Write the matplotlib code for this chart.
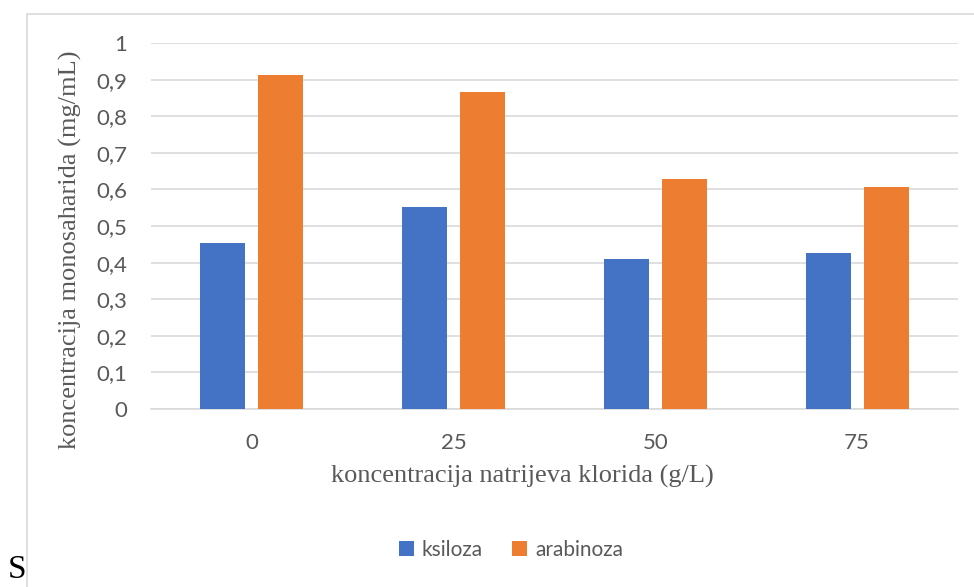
import matplotlib.pyplot as plt
from matplotlib.patches import Rectangle

categories = ["0", "25", "50", "75"]
ksiloza = [0.453, 0.552, 0.411, 0.427]
arabinoza = [0.912, 0.865, 0.628, 0.607]
yticks = [0, 0.1, 0.2, 0.3, 0.4, 0.5, 0.6, 0.7, 0.8, 0.9, 1]
ytick_labels = ["0", "0,1", "0,2", "0,3", "0,4", "0,5", "0,6", "0,7", "0,8", "0,9", "1"]

blue = "#4472C4"
orange = "#ED7D31"
grey_text = "#595959"

fig = plt.figure(figsize=(9.74, 5.87), dpi=100)
ax = fig.add_axes([151 / 974, 1 - 409 / 587, (958 - 151) / 974, (409 - 43) / 587])

# chart frame (no right/bottom edge visible)
fig.patches.append(Rectangle((27 / 974, -0.1), 1.1, 1 - 14 / 587 + 0.1,
                             transform=fig.transFigure, fill=False,
                             edgecolor="#D9D9D9", linewidth=1.2))

x = list(range(len(categories)))
w = 0.223
off = 0.144
ax.bar([i - off for i in x], ksiloza, width=w, color=blue, label="ksiloza", zorder=3)
ax.bar([i + off for i in x], arabinoza, width=w, color=orange, label="arabinoza", zorder=3)

ax.set_xlim(-0.5, 3.5)
ax.set_ylim(0, 1)
ax.set_yticks(yticks)
ax.set_yticklabels(ytick_labels)
ax.set_xticks(x)
ax.set_xticklabels(categories)
ax.grid(axis="y", color="#D9D9D9", linewidth=1.2, zorder=0)
for s in ["top", "right", "left"]:
    ax.spines[s].set_visible(False)
ax.spines["bottom"].set_color("#D9D9D9")
ax.spines["bottom"].set_linewidth(1.2)
ax.tick_params(axis="both", length=0, labelsize=16, labelcolor=grey_text)
ax.tick_params(axis="y", pad=17)
ax.tick_params(axis="x", pad=17)
for lab in ax.get_xticklabels() + ax.get_yticklabels():
    lab.set_family("Lato")

ax.set_ylabel("koncentracija monosaharida (mg/mL)", family="Liberation Serif",
              fontsize=19, color=grey_text)
ax.yaxis.set_label_coords(-0.0855, 0.434)
ax.set_xlabel("koncentracija natrijeva klorida (g/L)", family="Liberation Serif",
              fontsize=19, color=grey_text)
ax.xaxis.set_label_coords(0.46, -0.153)

fig.legend(loc="center", bbox_to_anchor=(511 / 974, 1 - 550 / 587), ncol=2,
           frameon=False, prop={"family": "Lato", "size": 15},
           labelcolor=grey_text, handlelength=0.7, handleheight=0.7,
           handletextpad=0.4, columnspacing=1.4)

fig.text(8 / 974, 0.003, "S", family="Liberation Serif", fontsize=24,
         color="black", va="bottom")

fig.savefig("out.png", dpi=100)
